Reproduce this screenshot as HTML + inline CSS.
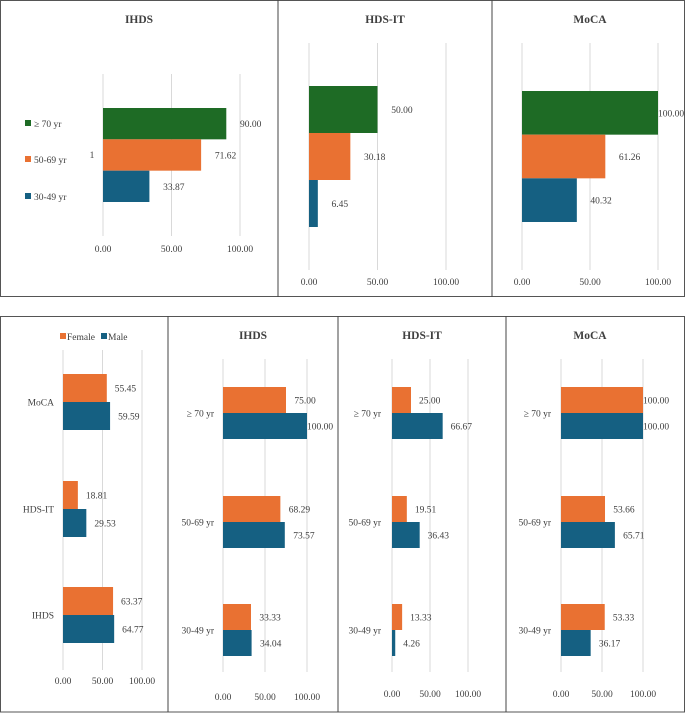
<!DOCTYPE html>
<html><head><meta charset="utf-8"><style>
html,body{margin:0;padding:0;background:#fff}
svg{display:block;font-family:"Liberation Serif",serif}
</style></head><body>
<svg id="chart" width="685" height="713" viewBox="0 0 685 713"></svg>
<script>
// ---- data ----
const ageGroups = ["≥ 70 yr","50-69 yr","30-49 yr"];
const topTests = ["IHDS","HDS-IT","MoCA"];
const topOlder = [90.00, 50.00, 100.00];
const topMiddle = [71.62, 30.18, 61.26];
const topYoung = [33.87, 6.45, 40.32];
const sexTests = ["MoCA","HDS-IT","IHDS"];
const sexFemale = [55.45, 18.81, 63.37];
const sexMale = [59.59, 29.53, 64.77];
const ihdsFemale = [75.00, 68.29, 33.33];
const ihdsMale = [100.00, 73.57, 34.04];
const hdsFemale = [25.00, 19.51, 13.33];
const hdsMale = [66.67, 36.43, 4.26];
const mocaFemale = [100.00, 53.66, 53.33];
const mocaMale = [100.00, 65.71, 36.17];
const tickValues = [0, 50, 100];
const tickLabels = ["0.00","50.00","100.00"];

const NS="http://www.w3.org/2000/svg";
const svg=document.getElementById('chart');
const GREEN="#1e6b25",ORANGE="#e97132",BLUE="#156082";
function mk(tag,attrs,parent){const e=document.createElementNS(NS,tag);for(const k in attrs)e.setAttribute(k,attrs[k]);(parent||svg).appendChild(e);return e;}
function txt(s,x,y,anchor,size,parent,weight){const t=mk('text',{x:x,y:y,'text-anchor':anchor||'start','font-size':size||10,fill:'#404040','font-weight':weight||'normal'},parent);t.textContent=s;return t;}

// frames
const f1=mk('rect',{x:0.5,y:0.5,width:684,height:296,fill:'none',stroke:'#555','stroke-width':1});

const f2=mk('rect',{x:0.5,y:316.5,width:684,height:395.5,fill:'none',stroke:'#555','stroke-width':1});

[278,492].forEach(x=>{const l=mk('line',{x1:x,x2:x,y1:0,y2:297,stroke:'#444'});});
[168,338,506].forEach(x=>{const l=mk('line',{x1:x,x2:x,y1:316,y2:712,stroke:'#444'});});

function panel(o){
  const g=mk('g',{});
  
  
  const sx=v=>o.x0+(o.x100-o.x0)*v/100;
  if(o.title){const t=txt(o.title,o.titleX,o.titleY,'middle',11.5,g,'bold');}
  tickValues.forEach((v,i)=>{
    const l=mk('line',{x1:sx(v),x2:sx(v),y1:o.gy0,y2:o.gy1,stroke:'#d9d9d9','stroke-width':1},g);
    
    const t=txt(tickLabels[i],sx(v),o.tickY,'middle',9.5,g);
    
  });
  o.groups.forEach((grp,gi)=>{
    const bh=(grp.y1-grp.y0)/o.series.length;
    o.series.forEach((s,si)=>{
      const v=s.values[gi];const y=grp.y0+si*bh;
      const r=mk('rect',{x:sx(0),y:y,width:Math.max(0,sx(v)-sx(0)),height:bh,fill:s.color},g);
      
      const t=txt(v.toFixed(2),sx(v)+(v>=99?0:Math.max(8,(o.x100-o.x0)*0.1)),y+bh/2+3.5,'start',9.5,g);
      
    });
    if(grp.label){const t=txt(grp.label,o.labelX,(grp.y0+grp.y1)/2+3.5,'end',9.5,g);}
  });
}
const ageSeries=(a,b,c)=>[{key:'older',color:GREEN,values:a},{key:'middle',color:ORANGE,values:b},{key:'young',color:BLUE,values:c}];
// top row
panel({name:'ihds-age-panel',title:topTests[0],titleX:139,titleY:23,x0:103,x100:240,gy0:74,gy1:236,tickY:252,
  series:ageSeries([topOlder[0]],[topMiddle[0]],[topYoung[0]]),groups:[{y0:108,y1:202}]});
panel({name:'hdsit-age-panel',title:topTests[1],titleX:385,titleY:23,x0:309,x100:446,gy0:43,gy1:270,tickY:285,
  series:ageSeries([topOlder[1]],[topMiddle[1]],[topYoung[1]]),groups:[{y0:86,y1:227}]});
panel({name:'moca-age-panel',title:topTests[2],titleX:590,titleY:23,x0:522,x100:658,gy0:43,gy1:270,tickY:285,
  series:ageSeries([topOlder[2]],[topMiddle[2]],[topYoung[2]]),groups:[{y0:91,y1:222}]});
const c1=txt('1',92,158,'middle',9.5);
// top legend
[[ageGroups[0],GREEN,124],[ageGroups[1],ORANGE,160],[ageGroups[2],BLUE,197]].forEach(([lab,c,y])=>{
  const r=mk('rect',{x:25,y:y-4,width:6,height:6,fill:c});
  const t=txt(lab,34,y+3,'start',9.5);
});
// bottom row
const sexSeries=(f,m)=>[{key:'female',color:ORANGE,values:f},{key:'male',color:BLUE,values:m}];
panel({name:'sex-by-test-panel',x0:63,x100:142,gy0:350,gy1:670,tickY:684,labelX:54,
  series:sexSeries(sexFemale,sexMale),
  groups:[{y0:374,y1:430,label:sexTests[0]},{y0:481,y1:537,label:sexTests[1]},{y0:587,y1:643,label:sexTests[2]}]});
const ageGroupsPos=[{y0:387,y1:439},{y0:496,y1:548},{y0:604,y1:656}];
const mkGroups=()=>ageGroupsPos.map((p,i)=>({y0:p.y0,y1:p.y1,label:ageGroups[i]}));
panel({name:'ihds-sex-age-panel',title:'IHDS',titleX:253,titleY:339,x0:223,x100:307,gy0:359,gy1:672,tickY:700,labelX:214,
  series:sexSeries(ihdsFemale,ihdsMale),groups:mkGroups()});
panel({name:'hdsit-sex-age-panel',title:'HDS-IT',titleX:422,titleY:339,x0:392,x100:468,gy0:359,gy1:672,tickY:697,labelX:381,
  series:sexSeries(hdsFemale,hdsMale),groups:mkGroups()});
panel({name:'moca-sex-age-panel',title:'MoCA',titleX:590,titleY:339,x0:561,x100:643,gy0:359,gy1:672,tickY:697,labelX:551,
  series:sexSeries(mocaFemale,mocaMale),groups:mkGroups()});
// bottom legend
[['Female',ORANGE,60],['Male',BLUE,101]].forEach(([lab,c,x])=>{
  const r=mk('rect',{x:x,y:333,width:6,height:6,fill:c});
  const t=txt(lab,x+7,340,'start',9.5);
});
</script>
</body></html>
